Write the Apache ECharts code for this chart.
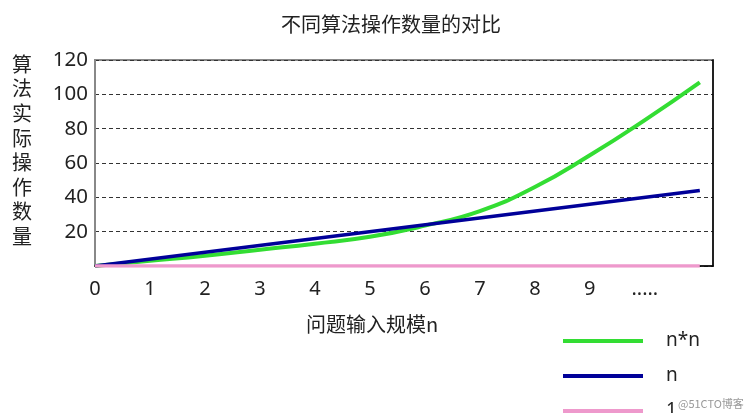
<!DOCTYPE html>
<html>
<head>
<meta charset="utf-8">
<script src="https://cdn.jsdelivr.net/npm/echarts@6/dist/echarts.min.js"></script>
<style>
  html, body { margin: 0; padding: 0; background: #fff; }
  #chart { width: 752px; height: 413px; }
</style>
</head>
<body>
<div id="chart"></div>
<script>
// x-axis tick labels, index = position on the n axis
const xTickLabels = ['0', '1', '2', '3', '4', '5', '6', '7', '8', '9', '.....'];
// n*n curve at n = 0..11
const squareN = [0, 1, 2, 3, 4, 5, 6, 7, 8, 9, 10, 11];
const squareVals = [0, 3, 6, 9.5, 13, 17, 23.5, 32, 46, 64.5, 85, 107];
// n line and constant 1 line (end points)
const linearN = [0, 11];
const linearVals = [0, 44];
const constN = [0, 11];
const constVals = [0, 0];
const yName = '算法实际操作数量';

const fontNum = "'Noto Sans', sans-serif";
const fontCjk = "'Noto Sans CJK SC', sans-serif";

const chart = echarts.init(document.getElementById('chart'));
const pairs = (xs, ys) => xs.map((x, i) => [x, ys[i]]);

chart.setOption({
  animation: false,
  title: {
    text: '不同算法操作数量的对比', left: 386, top: 9, textAlign: 'center',
    textStyle: { fontFamily: fontCjk, fontSize: 20, fontWeight: 'normal', color: '#222' }
  },
  grid: {
    left: 95, right: 39, top: 60, bottom: 147,
    show: true, borderColor: '#888', borderWidth: 2, backgroundColor: '#fff'
  },
  legend: {
    orient: 'vertical', left: 563, top: 331, height: 120, padding: 0, icon: 'rect',
    itemWidth: 80, itemHeight: 4, itemGap: 15,
    textStyle: { fontFamily: fontNum, fontSize: 19, color: '#222', lineHeight: 20, padding: [0, 0, 0, 18] },
    data: ['n*n', 'n', '1']
  },
  xAxis: {
    type: 'value', min: 0, max: 11.24, interval: 1,
    axisLine: { show: true, lineStyle: { color: '#000', width: 1.5 } },
    axisTick: { show: false },
    splitLine: { show: false },
    axisLabel: {
      margin: 13, color: '#222', fontFamily: fontNum, fontSize: 20,
      showMaxLabel: false,
      formatter: (v) => (xTickLabels[Math.round(v)] !== undefined && Math.abs(v - Math.round(v)) < 1e-6)
        ? xTickLabels[Math.round(v)] : ''
    }
  },
  yAxis: [{
    type: 'value', min: 0, max: 120, interval: 20,
    axisLine: { show: true, lineStyle: { color: '#888', width: 2 } },
    axisTick: { show: false },
    splitLine: { show: true, lineStyle: { color: '#333', type: [4, 3], width: 1 } },
    axisLabel: {
      margin: 7, color: '#222', fontFamily: fontNum, fontSize: 20.5,
      formatter: (v) => (v === 0 ? '' : String(v))
    }
  }, {
    type: 'value', min: 0, max: 120, interval: 20, position: 'right',
    axisLine: { show: true, lineStyle: { color: '#000', width: 1.5 } },
    axisTick: { show: false }, axisLabel: { show: false }, splitLine: { show: false }
  }],
  graphic: [
    {
      type: 'text', x: 22, y: 52,
      style: {
        text: yName.split('').join('\n'), fontFamily: fontCjk, fontSize: 20, fill: '#222',
        lineHeight: 24.6, align: 'center', verticalAlign: 'top'
      }
    },
    {
      type: 'text', x: 372, y: 314,
      style: { text: '问题输入规模n', fontFamily: fontCjk, fontSize: 20, fill: '#222', align: 'center' }
    },
    {
      type: 'text', x: 678, y: 398,
      style: { text: '@51CTO博客', fontFamily: fontCjk, fontSize: 11, fill: '#999' }
    }
  ],
  series: [
    {
      name: 'n*n', type: 'line', smooth: true, symbol: 'none',
      data: pairs(squareN, squareVals),
      itemStyle: { color: '#33dd33' }, lineStyle: { color: '#33dd33', width: 4 }, z: 3
    },
    {
      name: 'n', type: 'line', symbol: 'none',
      data: pairs(linearN, linearVals),
      itemStyle: { color: '#000099' }, lineStyle: { color: '#000099', width: 3.5 }, z: 4
    },
    {
      name: '1', type: 'line', symbol: 'none',
      data: pairs(constN, constVals),
      itemStyle: { color: '#ee99cc' }, lineStyle: { color: '#ee99cc', width: 3.5 }, z: 5
    }
  ]
});
</script>
</body>
</html>
